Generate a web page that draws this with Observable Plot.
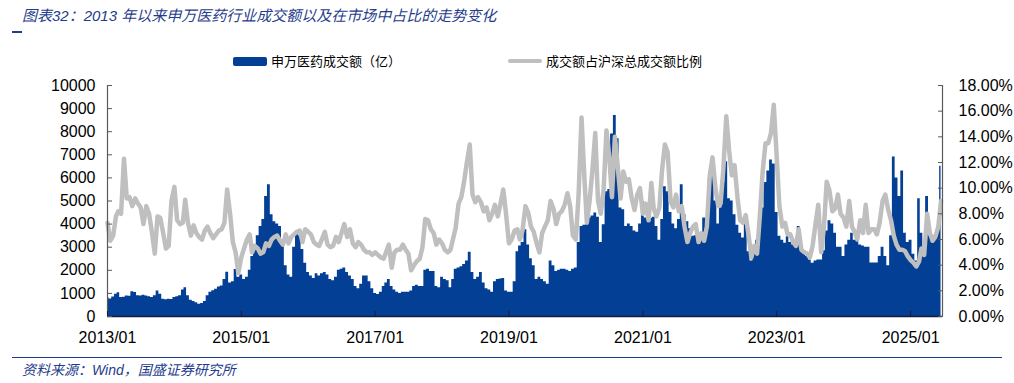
<!DOCTYPE html>
<html>
<head>
<meta charset="utf-8">
<script src="https://cdn.jsdelivr.net/npm/d3@7"></script>
<script src="https://cdn.jsdelivr.net/npm/@observablehq/plot@0.6"></script>
<style>
  html, body { margin: 0; padding: 0; background: #fff; }
  #wrap { position: relative; width: 1014px; height: 383px; overflow: hidden; }
  #wrap svg { position: absolute; left: 0; top: 0; }
  .t { position: absolute; white-space: nowrap; }
  #title { left: 22px; top: 8px; font: italic 15px/16px "Liberation Sans", "Noto Sans CJK SC", sans-serif; color: #1F3D8C; }
  #dash { left: 12px; top: 31px; width: 10px; height: 1.5px; background: #1F3D8C; }
  #bline { left: 12px; top: 356.5px; width: 990px; height: 1.5px; background: #1F3D8C; }
  #source { left: 22px; top: 362px; font: italic 14px/16px "Liberation Sans", "Noto Sans CJK SC", sans-serif; color: #1F3D8C; }
  .lg { font: 13px/14px "Noto Sans CJK SC", sans-serif; color: #000; top: 54px; }
  #lgb { left: 233px; top: 57px; width: 34px; height: 9px; background: #033F94; border-radius: 2px; }
  #lgg { left: 508px; top: 59px; width: 34px; height: 4px; background: #BFBFBF; border-radius: 2px; }
</style>
</head>
<body>
<div id="wrap">
  <div id="title" class="t">图表32：2013 年以来申万医药行业成交额以及在市场中占比的走势变化</div>
  <div id="dash" class="t"></div>
  <div id="lgb" class="t"></div>
  <div class="t lg" style="left:271px">申万医药成交额（亿）</div>
  <div id="lgg" class="t"></div>
  <div class="t lg" style="left:546px">成交额占沪深总成交额比例</div>
  <div id="bline" class="t"></div>
  <div id="source" class="t">资料来源：Wind，国盛证券研究所</div>
</div>
<script>
// Half-monthly readings, starting 2013/01, 24 per year
const startYear = 2013;
const amount = [
  820,760,840,960,1030,820,830,890,880,1070,1040,900,890,920,890,860,820,900,1100,960,750,720,750,740,
  820,850,900,1150,1250,900,700,650,600,530,560,650,900,1050,1120,1180,1280,1320,1600,1920,1450,1500,2040,1700,
  1800,1600,1700,2000,2600,3000,3500,3900,4200,5200,5700,4400,4100,4000,3900,3100,2200,1800,1700,3000,3700,3500,2900,2300,
  1900,1750,1650,1850,1750,1850,1900,1800,1600,1550,1700,2000,2050,2100,1900,1750,1600,1300,1200,1400,1750,1750,1500,1200,
  1000,950,1050,1300,1450,1600,1300,1150,1050,1000,1050,1050,1050,1100,1300,1350,1300,1300,2000,2050,1950,1950,1300,1250,
  1700,1600,1550,1250,1600,2050,2100,2150,2250,2400,2780,1900,1600,1700,1900,1450,1200,1150,1050,1500,1600,1620,1650,1100,
  1050,1050,1500,2800,3050,3200,3760,3100,2500,2200,1600,1700,1600,1500,1400,2400,2200,1950,2000,2050,2050,2000,1950,2050,
  2100,3200,3900,3950,4190,4260,4350,4480,4300,3200,3970,5400,5500,7900,8700,7700,4700,4620,3900,4000,3900,3700,3650,4000,
  4980,4260,4300,4250,4300,3900,3300,4200,5620,5400,4500,4000,3800,4200,5700,4400,4100,3800,3470,3500,3600,3300,4260,3900,
  6000,6600,5000,4000,4700,5800,6700,5100,5000,4400,3950,3600,3400,4100,2800,2400,2900,3300,4000,4700,5800,6300,6770,6600,
  4500,3470,3300,3170,3450,3200,3100,3000,3900,2900,2750,2600,2450,2300,2400,2450,2450,2850,3700,4150,4000,3600,3000,3000,
  2600,3100,3300,3600,3300,3400,3100,3050,3000,3000,2320,2320,2320,2600,3000,2600,2200,3500,6900,6000,5200,6300,3600,3200,
  3300,2700,2400,5100,3600,2700,5200,3500,3200,3500,3700,6500
];
// share of total SH+SZ turnover, %
const share = [
  7.3,5.9,6.3,7.8,8.2,8.0,12.3,9.2,9.3,8.6,9.2,8.8,8.5,7.2,8.6,8.0,6.5,4.9,7.8,7.7,6.5,5.3,5.5,9.0,
  10.1,7.5,7.2,7.3,9.1,7.3,6.3,7.1,6.5,6.2,6.0,6.7,7.0,6.5,6.1,6.4,6.7,6.8,7.3,9.9,8.0,5.8,5.0,3.4,
  4.6,5.3,6.0,6.4,5.0,5.5,5.3,4.9,5.0,5.7,5.5,6.0,6.2,6.3,5.9,5.6,6.4,5.7,6.2,6.4,6.6,6.7,5.8,6.8,
  6.6,6.4,5.8,5.6,5.5,6.0,6.6,5.6,5.4,5.5,6.2,5.8,6.5,7.2,6.2,6.8,5.7,5.4,5.8,5.6,5.2,5.0,5.0,4.8,
  5.0,4.8,4.6,4.5,5.0,5.6,3.8,5.0,5.2,5.2,5.6,5.2,4.9,3.6,4.0,4.3,4.5,5.4,7.6,7.5,6.8,6.5,5.6,6.0,
  5.7,5.2,5.0,5.2,6.0,6.9,8.8,9.3,10.5,12.0,13.4,9.5,8.9,9.3,8.9,8.2,8.5,7.5,8.0,8.7,7.8,8.8,9.9,8.0,
  5.7,6.0,6.7,6.8,6.0,6.7,8.6,8.1,7.0,6.6,5.7,5.0,6.5,7.0,7.5,9.0,8.4,7.2,8.0,8.2,8.7,9.6,8.6,6.3,
  6.0,9.5,15.5,11.0,7.3,9.0,11.5,14.3,9.0,8.0,10.0,14.5,12.5,9.3,14.0,11.8,9.2,11.3,10.5,10.7,9.2,8.3,9.5,10.0,
  8.0,8.8,7.5,10.4,8.4,7.8,8.5,11.5,13.4,12.8,9.0,8.5,9.5,8.2,8.6,7.0,5.8,6.5,7.0,7.2,5.8,6.5,5.9,7.0,
  11.0,12.4,10.0,8.6,8.8,11.5,15.6,13.0,11.0,11.8,9.3,7.5,7.3,7.9,6.3,4.6,5.5,4.9,7.8,11.2,13.5,13.5,14.3,16.5,
  12.5,8.6,7.0,7.3,6.4,6.4,5.8,5.5,6.8,5.2,5.0,4.9,4.6,5.5,7.2,8.7,5.0,7.0,10.5,9.8,8.2,8.4,9.5,8.0,
  7.7,7.0,9.0,7.0,6.6,6.0,7.5,6.5,8.7,6.5,6.8,6.8,6.4,7.3,9.0,9.5,8.3,7.5,6.3,5.6,5.2,5.2,5.1,4.7,
  4.4,4.2,3.9,4.3,5.3,4.8,8.0,6.5,5.9,6.2,7.0,9.0
];
const xTickYears = [2013, 2015, 2017, 2019, 2021, 2023, 2025];
const leftTicks = [0,1000,2000,3000,4000,5000,6000,7000,8000,9000,10000];
const rightTicks = [0,2,4,6,8,10,12,14,16,18];
const leftMax = 10000, rightMax = 18;

const dateOf = i => {
  const y = startYear + Math.floor(i / 24), k = i % 24;
  return new Date(Date.UTC(y, Math.floor(k / 2), k % 2 ? 16 : 1));
};
const data = amount.map((a, i) => ({date: dateOf(i), amount: a, share: share[i]}));
const x0 = new Date(Date.UTC(2013, 0, 1)), x1 = new Date(Date.UTC(2025, 5, 24));
const toLeft = p => p / rightMax * leftMax;

const chart = Plot.plot({
  width: 1014, height: 383,
  marginLeft: 107, marginRight: 72, marginTop: 85, marginBottom: 67,
  style: {fontFamily: "Liberation Sans, sans-serif", fontSize: "16px", color: "#000", background: "transparent"},
  x: {type: "utc", domain: [x0, x1]},
  y: {domain: [0, leftMax]},
  marks: [
    Plot.areaY(data, {x: "date", y: "amount", fill: "#033F94", curve: "step"}),
    Plot.line(data, {x: "date", y: d => toLeft(d.share), stroke: "#BFBFBF", strokeWidth: 4.5, strokeLinejoin: "round", strokeLinecap: "round"}),
    Plot.ruleX([x0], {stroke: "#595959", strokeWidth: 1.2}),
    Plot.ruleX([x1], {stroke: "#595959", strokeWidth: 1.2}),
    Plot.ruleY([0], {stroke: "#1a1a3a", strokeWidth: 1.5}),
    Plot.axisY({anchor: "left", ticks: leftTicks, tickSize: -5, tickPadding: 17, tickFormat: d => String(d), stroke: "#595959", fill: "#000", label: null}),
    Plot.axisY({anchor: "right", ticks: rightTicks.map(toLeft), tickSize: -5, tickPadding: 21,
      tickFormat: v => (Math.round(v / leftMax * rightMax)).toFixed(2) + "%", stroke: "#595959", fill: "#000", label: null}),
    Plot.axisX({ticks: xTickYears.map(y => new Date(Date.UTC(y, 0, 1))), tickSize: -5, tickPadding: 20,
      tickFormat: d3.utcFormat("%Y/%m"), stroke: "#1a1a3a", fill: "#000", label: null})
  ]
});
document.getElementById("wrap").prepend(chart);
</script>
</body>
</html>
